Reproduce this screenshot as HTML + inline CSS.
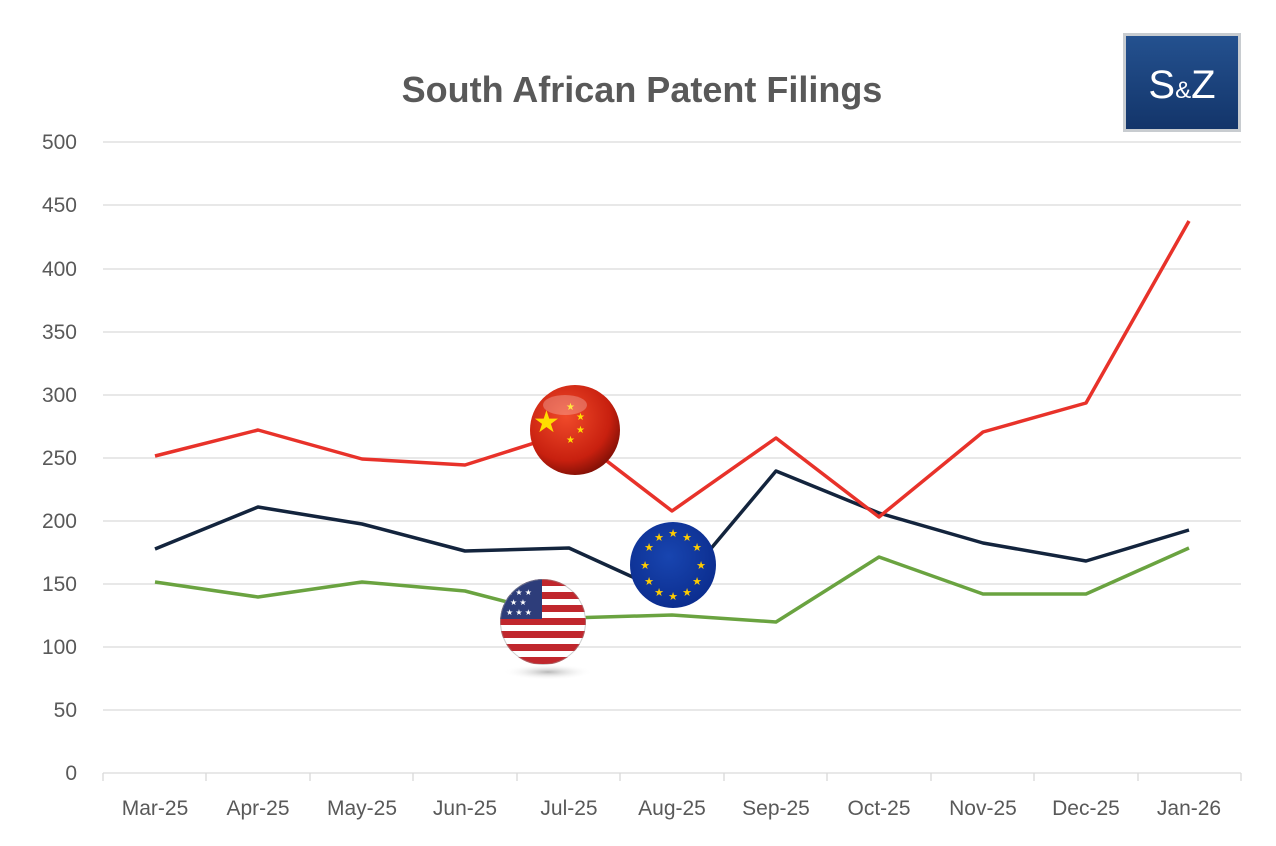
<!DOCTYPE html>
<html><head><meta charset="utf-8"><style>
html,body{margin:0;padding:0;background:#fff;}
body{width:1276px;height:846px;overflow:hidden;}
svg{display:block;font-family:"Liberation Sans",Arial,sans-serif;}
</style></head><body>
<svg width="1276" height="846" viewBox="0 0 1276 846">
<defs>
<radialGradient id="cn" cx="0.4" cy="0.35" r="0.7"><stop offset="0" stop-color="#f04a2a"/><stop offset="0.7" stop-color="#c8200f"/><stop offset="1" stop-color="#7a0e05"/></radialGradient>
<radialGradient id="eu" cx="0.45" cy="0.4" r="0.7"><stop offset="0" stop-color="#1845b0"/><stop offset="1" stop-color="#0a2a8a"/></radialGradient>
<radialGradient id="sh" cx="0.5" cy="0.5" r="0.5"><stop offset="0" stop-color="#888" stop-opacity="0.6"/><stop offset="1" stop-color="#fff" stop-opacity="0"/></radialGradient>
<linearGradient id="lg" x1="0" y1="0" x2="0" y2="1"><stop offset="0" stop-color="#24518f"/><stop offset="1" stop-color="#13356a"/></linearGradient>
<clipPath id="usc"><circle cx="543" cy="622" r="43"/></clipPath>
</defs>
<text x="642" y="102" text-anchor="middle" font-size="36" font-weight="bold" fill="#595959">South African Patent Filings</text>
<rect x="1123" y="33" width="118" height="99" fill="#c8ccd0"/>
<rect x="1126" y="36" width="112" height="93" fill="url(#lg)"/>
<text x="1182" y="98" text-anchor="middle" font-size="40" fill="#fff"><tspan>S</tspan><tspan font-size="24">&amp;</tspan><tspan>Z</tspan></text>
<g stroke="#d9d9d9" stroke-width="1.3">
<line x1="103" x2="1241" y1="142" y2="142"/><line x1="103" x2="1241" y1="205" y2="205"/>
<line x1="103" x2="1241" y1="269" y2="269"/><line x1="103" x2="1241" y1="332" y2="332"/>
<line x1="103" x2="1241" y1="395" y2="395"/><line x1="103" x2="1241" y1="458" y2="458"/>
<line x1="103" x2="1241" y1="521" y2="521"/><line x1="103" x2="1241" y1="584" y2="584"/>
<line x1="103" x2="1241" y1="647" y2="647"/><line x1="103" x2="1241" y1="710" y2="710"/>
<line x1="103" x2="1241" y1="773" y2="773"/>
<line x1="103" x2="103" y1="773" y2="781"/><line x1="206" x2="206" y1="773" y2="781"/>
<line x1="310" x2="310" y1="773" y2="781"/><line x1="413" x2="413" y1="773" y2="781"/>
<line x1="517" x2="517" y1="773" y2="781"/><line x1="620" x2="620" y1="773" y2="781"/>
<line x1="724" x2="724" y1="773" y2="781"/><line x1="827" x2="827" y1="773" y2="781"/>
<line x1="931" x2="931" y1="773" y2="781"/><line x1="1034" x2="1034" y1="773" y2="781"/>
<line x1="1138" x2="1138" y1="773" y2="781"/><line x1="1241" x2="1241" y1="773" y2="781"/>
</g>
<g font-size="21" fill="#595959" text-anchor="end">
<text x="77" y="149">500</text><text x="77" y="212">450</text><text x="77" y="276">400</text>
<text x="77" y="339">350</text><text x="77" y="402">300</text><text x="77" y="465">250</text>
<text x="77" y="528">200</text><text x="77" y="591">150</text><text x="77" y="654">100</text>
<text x="77" y="717">50</text><text x="77" y="780">0</text>
</g>
<g font-size="21" fill="#595959" text-anchor="middle">
<text x="155" y="815">Mar-25</text><text x="258" y="815">Apr-25</text><text x="362" y="815">May-25</text>
<text x="465" y="815">Jun-25</text><text x="569" y="815">Jul-25</text><text x="672" y="815">Aug-25</text>
<text x="776" y="815">Sep-25</text><text x="879" y="815">Oct-25</text><text x="983" y="815">Nov-25</text>
<text x="1086" y="815">Dec-25</text><text x="1189" y="815">Jan-26</text>
</g>
<g fill="none" stroke-width="3.5" stroke-linejoin="round">
<polyline stroke="#6aa340" points="155,582 258,597 362,582 465,591 569,618 672,615 776,622 879,557 983,594 1086,594 1189,548"/>
<polyline stroke="#13243d" points="155,549 258,507 362,524 465,551 569,548 672,595 776,471 879,513 983,543 1086,561 1189,530"/>
<polyline stroke="#e8322a" points="155,456 258,430 362,459 465,465 569,432 672,511 776,438 879,517 983,432 1086,403 1189,221"/>
</g>
<!-- China -->
<circle cx="575" cy="430" r="45" fill="url(#cn)"/>
<g fill="#ffde00" font-size="30"><text x="533" y="432">★</text></g>
<g fill="#ffde00" font-size="10"><text x="566" y="410">★</text><text x="576" y="420">★</text><text x="576" y="433">★</text><text x="566" y="443">★</text></g>
<ellipse cx="565" cy="405" rx="22" ry="10" fill="#fff" opacity="0.25"/>
<!-- EU -->
<circle cx="673" cy="565" r="43" fill="url(#eu)"/>
<g fill="#ffcc00" font-size="11" text-anchor="middle">
<text x="673" y="537">★</text><text x="687" y="541">★</text><text x="697" y="551">★</text><text x="701" y="569">★</text>
<text x="697" y="585">★</text><text x="687" y="596">★</text><text x="673" y="600">★</text><text x="659" y="596">★</text>
<text x="649" y="585">★</text><text x="645" y="569">★</text><text x="649" y="551">★</text><text x="659" y="541">★</text>
</g>
<!-- USA -->
<ellipse cx="548" cy="672" rx="45" ry="8" fill="url(#sh)"/>
<g clip-path="url(#usc)">
<rect x="500" y="579" width="90" height="90" fill="#fff"/>
<g fill="#c0272d">
<rect x="500" y="579" width="90" height="7"/><rect x="500" y="592" width="90" height="7"/>
<rect x="500" y="605" width="90" height="7"/><rect x="500" y="618" width="90" height="7"/>
<rect x="500" y="631" width="90" height="7"/><rect x="500" y="644" width="90" height="7"/>
<rect x="500" y="657" width="90" height="7"/>
</g>
<rect x="500" y="579" width="42" height="40" fill="#2d3d7a"/>
<g fill="#fff" font-size="8"><text x="506" y="595">★ ★ ★</text><text x="510" y="605">★ ★</text><text x="506" y="615">★ ★ ★</text></g>
<circle cx="543" cy="622" r="43" fill="none" stroke="#999" stroke-width="2" opacity="0.5"/>
</g>
</svg>
</body></html>
